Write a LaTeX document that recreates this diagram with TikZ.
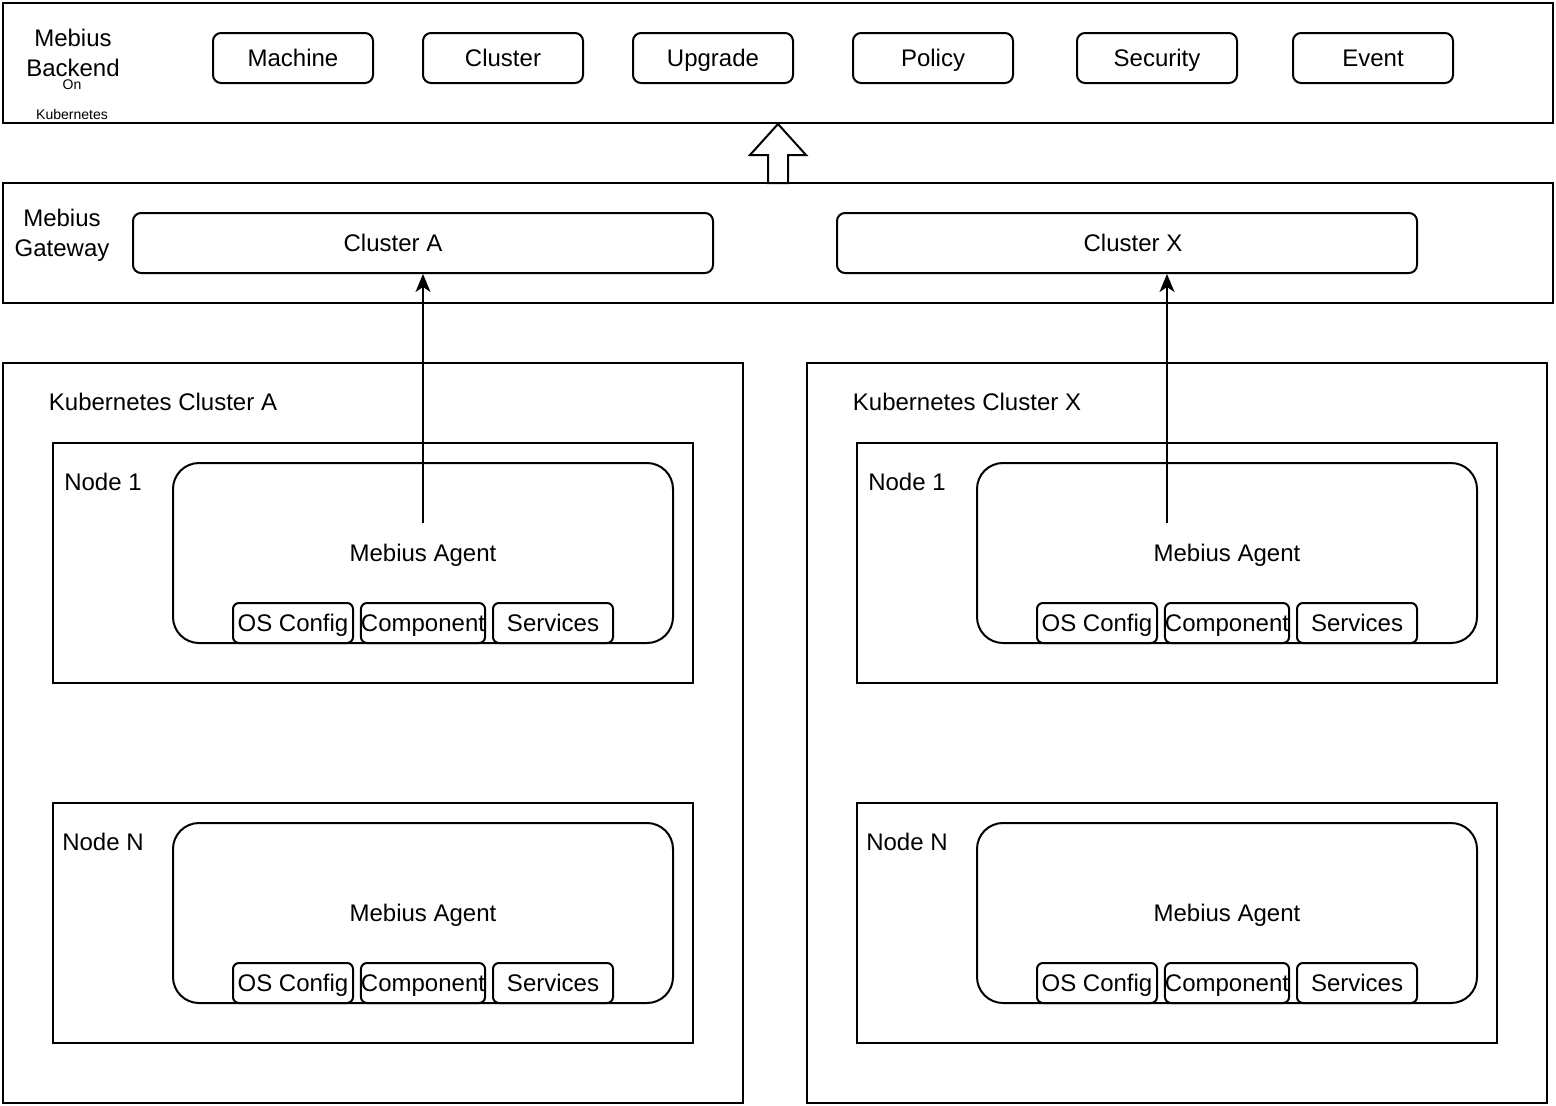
\documentclass[tikz,border=0pt]{standalone}
\usepackage{fontspec}
\setmainfont{Liberation Sans}
\usetikzlibrary{arrows.meta}

\tikzset{
  txt/.style={text height=17pt, text depth=1pt},
  frame/.style={draw, rectangle, inner sep=0pt},
  tagbox/.style={frame, txt, rounded corners=8pt, minimum width=160pt, minimum height=50pt},
  partbox/.style={frame, txt, fill=white, rounded corners=6pt, minimum width=120pt, minimum height=40pt},
  agentbox/.style={frame, txt, rounded corners=26pt, minimum width=500pt, minimum height=180pt},
  link/.style={-{Stealth[length=18pt,width=15pt,inset=5pt]}, line width=2pt},
}

\begin{document}
\begin{tikzpicture}[x=1pt, y=-1pt, line width=2pt,
  every node/.style={font=\fontsize{24}{30}\selectfont, inner sep=0pt, align=center}]
  \useasboundingbox (0,0) rectangle (1556,1106);

  % Backend
  \node[frame, minimum width=1550pt, minimum height=120pt] (backend) at (778,63) {};
  \node (backendlbl) at (73,53) {Mebius\\Backend};
  \node[font=\fontsize{14}{30}\selectfont] (onk8s) at (72,100) {On\\Kubernetes};
  \node[tagbox] (machine) at (293,58) {Machine};
  \node[tagbox] (cluster) at (503,58) {Cluster};
  \node[tagbox] (upgrade) at (713,58) {Upgrade};
  \node[tagbox] (policy) at (933,58) {Policy};
  \node[tagbox] (security) at (1157,58) {Security};
  \node[tagbox] (event) at (1373,58) {Event};

  % Gateway
  \node[frame, minimum width=1550pt, minimum height=120pt] (gateway) at (778,243) {};
  \node (gatewaylbl) at (62,235) {Mebius\\Gateway};
  \node[tagbox, minimum width=580pt, minimum height=60pt] (gwA) at (423,243) {};
  \node[txt] (gwAlbl) at (393,243) {Cluster A};
  \node[tagbox, minimum width=580pt, minimum height=60pt] (gwX) at (1127,243) {};
  \node[txt] (gwXlbl) at (1133,243) {Cluster X};

  % Hollow arrow gateway -> backend
  \draw[fill=white] (768,183) -- (768,155) -- (750,155) -- (778,124)
    -- (806,155) -- (788,155) -- (788,183) -- cycle;

  % Kubernetes clusters
  \foreach \c/\dx in {A/0, X/804} {
    \begin{scope}[xshift=\dx]
      \node[frame, minimum width=740pt, minimum height=740pt] (k8s\c) at (373,733) {};
      \node[txt] (k8s\c lbl) at (163,402) {Kubernetes Cluster \c};
      \foreach \n/\dy in {1/0, N/360} {
        \node[frame, minimum width=640pt, minimum height=240pt] (node\c\n) at (373,563+\dy) {};
        \node[txt] (node\c\n lbl) at (103,482+\dy) {Node \n};
        \node[agentbox] (agent\c\n) at (423,553+\dy) {Mebius Agent};
        \node[partbox] (os\c\n) at (293,623+\dy) {OS Config};
        \node[partbox] (comp\c\n) at (423,623+\dy) {Component};
        \node[partbox] (svc\c\n) at (553,623+\dy) {Services};
      }
    \end{scope}
  }

  % Agent -> gateway
  \coordinate (upA) at (423,523);
  \coordinate (upX) at (1167,523);
  \draw[link] (upA) -- (gwA.south);
  \draw[link] (upX) -- (upX |- gwX.south);
\end{tikzpicture}
\end{document}
